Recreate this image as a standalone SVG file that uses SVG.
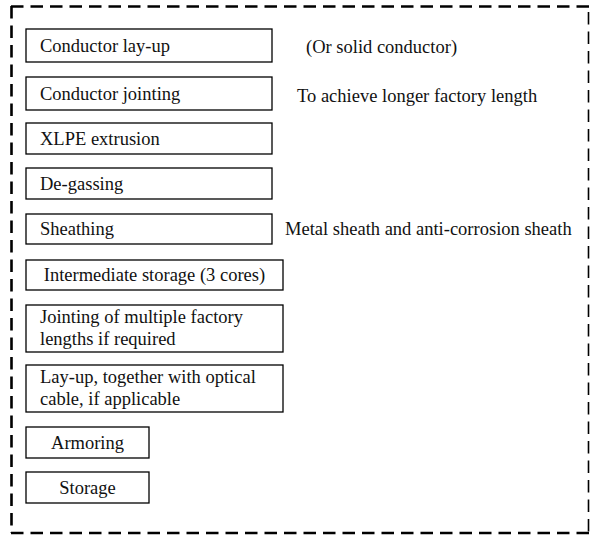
<svg xmlns="http://www.w3.org/2000/svg" width="590" height="536" viewBox="0 0 590 536">
<style>
.box{fill:#fff;stroke:#000;stroke-width:1.3}
.t{font-family:'Liberation Serif','Times New Roman',Times,serif;font-size:18.5px;fill:#111}
.c{text-anchor:middle}
.frame{fill:none;stroke:#000;stroke-width:2.6;stroke-dasharray:12.5 7}
</style>
<rect width="590" height="536" fill="#fff"/>
<g id="frame">
<line class="frame" x1="11" y1="6.5" x2="589" y2="6.5"/>
<line class="frame" x1="11.5" y1="6" x2="11.5" y2="533"/>
<line class="frame" x1="11" y1="533" x2="589" y2="533"/>
<line class="frame" x1="588.5" y1="12" x2="588.5" y2="533" style="stroke-width:1.6"/>
</g>
<g id="connectors"></g>
<g id="n1"><rect class="box" x="26" y="29" width="246" height="33"/><text class="t" x="40" y="52">Conductor lay-up</text></g>
<g id="n2"><rect class="box" x="26" y="77" width="246" height="33"/><text class="t" x="40" y="100">Conductor jointing</text></g>
<g id="n3"><rect class="box" x="26" y="123" width="246" height="31"/><text class="t" x="40" y="145">XLPE extrusion</text></g>
<g id="n4"><rect class="box" x="26" y="168" width="246" height="31"/><text class="t" x="40" y="190">De-gassing</text></g>
<g id="n5"><rect class="box" x="26" y="214" width="246" height="30"/><text class="t" x="40" y="235">Sheathing</text></g>
<g id="n6"><rect class="box" x="26" y="260" width="257" height="30"/><text class="t c" x="154.5" y="281">Intermediate storage (3 cores)</text></g>
<g id="n7"><rect class="box" x="26" y="305" width="257" height="47"/><text class="t" x="40" y="323">Jointing of multiple factory</text><text class="t" x="40" y="345">lengths if required</text></g>
<g id="n8"><rect class="box" x="26" y="365" width="257" height="47"/><text class="t" x="40" y="383">Lay-up, together with optical</text><text class="t" x="40" y="405">cable, if applicable</text></g>
<g id="n9"><rect class="box" x="26" y="427" width="123" height="31"/><text class="t c" x="87.5" y="449">Armoring</text></g>
<g id="n10"><rect class="box" x="26" y="472" width="123" height="31"/><text class="t c" x="87.5" y="494">Storage</text></g>
<g id="notes">
<text class="t" x="306" y="53">(Or solid conductor)</text>
<text class="t" x="297" y="102">To achieve longer factory length</text>
<text class="t" x="285" y="235">Metal sheath and anti-corrosion sheath</text>
</g>
</svg>
